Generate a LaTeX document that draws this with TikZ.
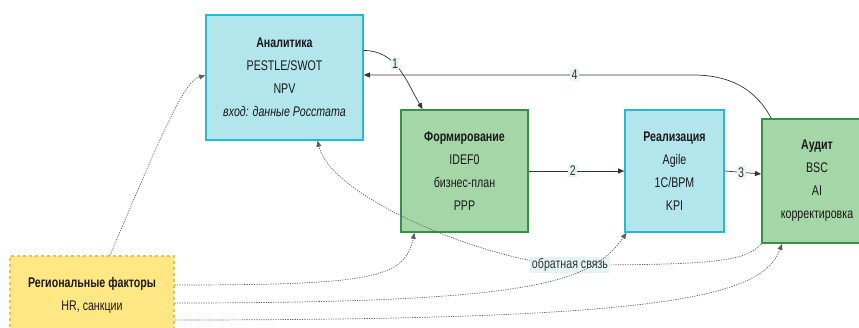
\documentclass[tikz,border=0pt]{standalone}
\usepackage{fontspec}
\setmainfont{Liberation Sans}[FakeStretch=0.76]
\usetikzlibrary{arrows.meta}

\definecolor{cyanfill}{HTML}{B2E5EC}
\definecolor{cyanline}{HTML}{26BAD2}
\definecolor{greenfill}{HTML}{A5D6A7}
\definecolor{greenline}{HTML}{388E4C}
\definecolor{yellowfill}{HTML}{FFE784}
\definecolor{yellowline}{HTML}{E4C548}
\definecolor{edgeline}{HTML}{333333}
\definecolor{lblfill}{HTML}{E6F3F5}

\newcommand{\boxfont}{\fontsize{14}{23}\selectfont}

\begin{document}
\begin{tikzpicture}[x=1pt,y=1pt,
  cyanbox/.style={rectangle,draw=cyanline,fill=cyanfill,line width=1.6pt,align=center,font=\boxfont,text=black!90},
  greenbox/.style={rectangle,draw=greenline,fill=greenfill,line width=1.8pt,align=center,font=\boxfont,text=black!90},
  factorbox/.style={rectangle,draw=yellowline,fill=yellowfill,line width=1.2pt,dashed,align=center,font=\boxfont,text=black!90},
  arr/.style={-{Triangle[length=6pt,width=5pt]},draw=edgeline,line width=0.7pt},
  dotarr/.style={arr,draw=edgeline!80,dash pattern=on 1.2pt off 1.2pt},
  lbl/.style={fill=lblfill,inner sep=1.5pt,font=\boxfont,text=edgeline}
]
\clip (0,-328) rectangle (859,0);

% blocks
\node[cyanbox,minimum width=157pt,minimum height=125pt] (ana) at (284.5,-77.5)
  {\textbf{Аналитика}\\PESTLE/SWOT\\NPV\\\textit{вход: данные Росстата}};
\node[greenbox,minimum width=127pt,minimum height=122pt] (form) at (464.5,-171)
  {\textbf{Формирование}\\IDEF0\\бизнес-план\\PPP};
\node[cyanbox,minimum width=99pt,minimum height=122pt] (real) at (674.5,-171)
  {\textbf{Реализация}\\Agile\\1C/BPM\\KPI};
\node[greenbox,minimum width=110pt,minimum height=124pt] (aud) at (817,-181)
  {\textbf{Аудит}\\BSC\\AI\\корректировка};
\node[factorbox,minimum width=164pt,minimum height=78pt] (reg) at (92,-295)
  {\textbf{Региональные факторы}\\HR, санкции};

% main cycle
\draw[arr] ([yshift=27pt]ana.east) to[out=0,in=120] node[lbl,pos=0.42]{1} ([xshift=-42pt]form.north);
\draw[arr] (form) -- node[lbl,pos=0.46]{2} (real);
\draw[arr] (real.east) -- node[lbl,pos=0.45]{3} ([yshift=7pt]aud.west);
\coordinate (back) at (693,-75);
\draw[arr] ([xshift=10pt]aud.north west) to[out=118,in=0] (back) -- node[lbl,pos=0.36]{4} (ana.east |- back);

% feedback
\coordinate (fbm) at (570,-265);
\draw[dotarr] (aud.south west) .. controls +(-15pt,-18pt) and +(140pt,0) .. (fbm)
  node[lbl]{обратная связь}
  .. controls +(-70pt,0) and +(15pt,-60pt) .. ([xshift=33pt]ana.south);

% regional factors
\draw[dotarr] ([xshift=18pt]reg.north) .. controls +(55pt,130pt) and +(-20pt,-5pt) .. ([yshift=2pt]ana.west);
\draw[dotarr] ([yshift=10pt]reg.east) .. controls +(200pt,0) and +(-10pt,-45pt) .. ([xshift=-50pt]form.south);
\draw[dotarr] ([yshift=-8pt]reg.east) .. controls +(360pt,0) and +(-35pt,-50pt) .. ([xshift=-48pt]real.south);
\draw[dotarr] ([yshift=-25pt]reg.east) .. controls +(480pt,0) and +(-20pt,-55pt) .. ([xshift=-35pt]aud.south);
\end{tikzpicture}
\end{document}
